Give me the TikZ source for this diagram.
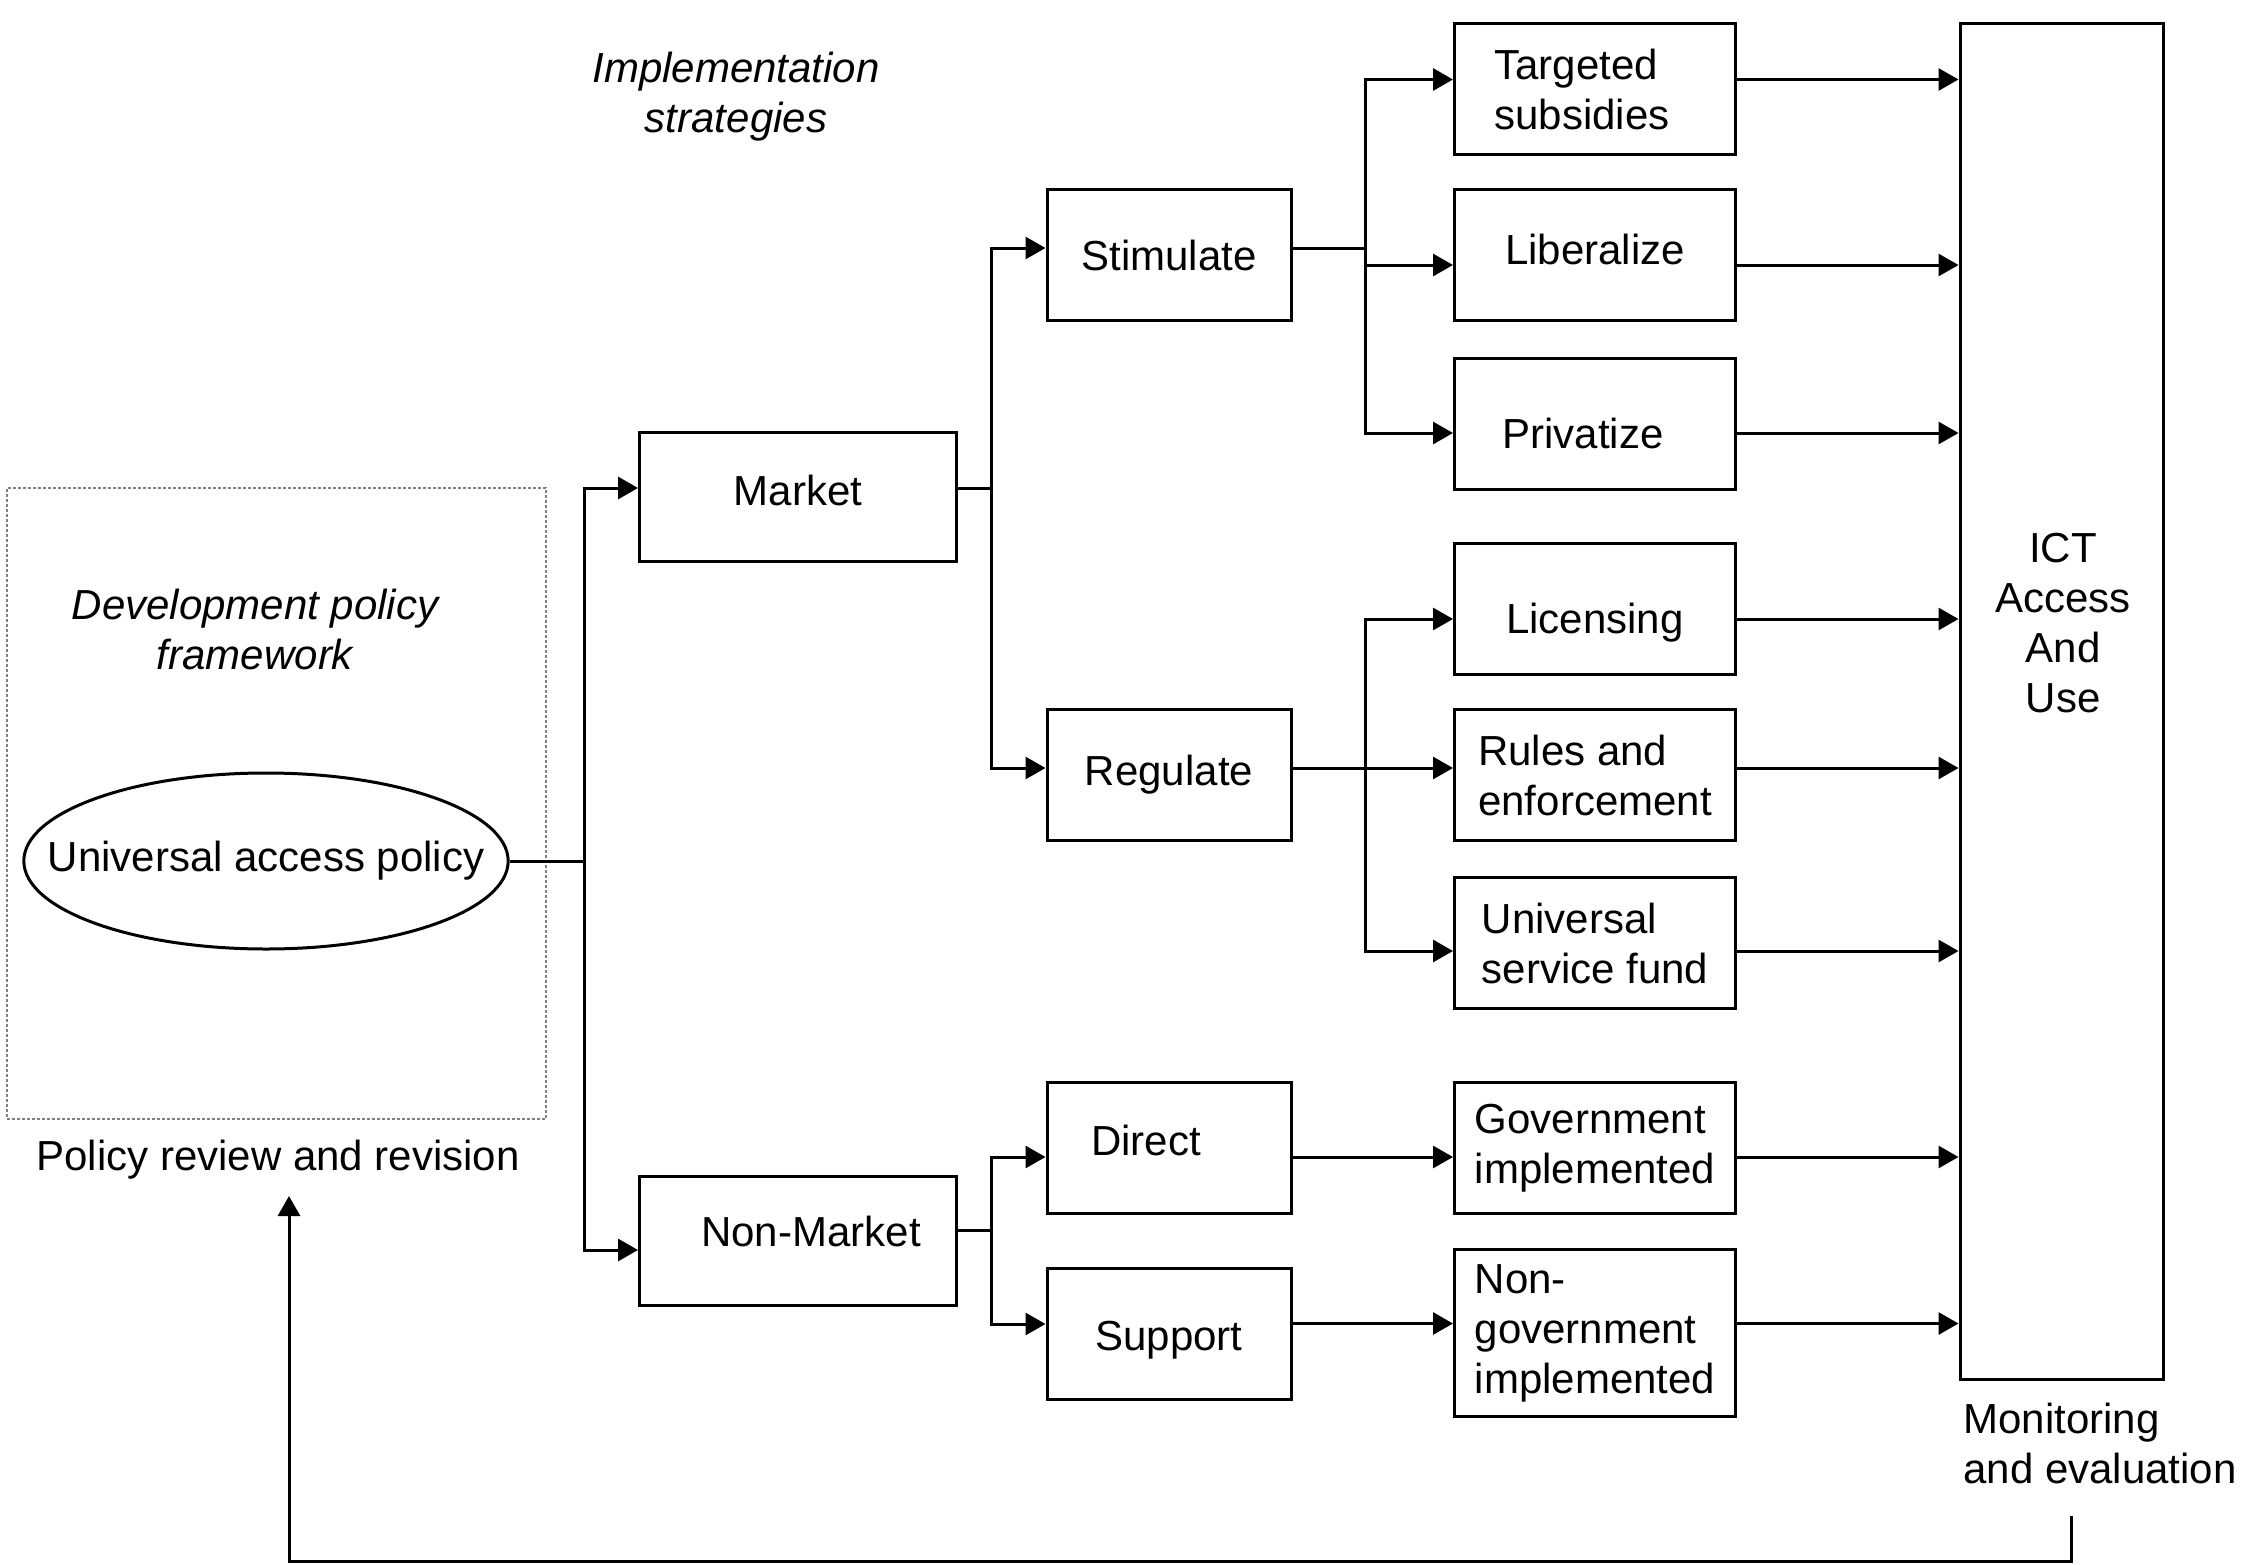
\documentclass[tikz,border=0pt]{standalone}
\usepackage{fontspec}
\setmainfont{Liberation Sans}
\usepackage{tikz}
\usetikzlibrary{arrows.meta,shapes.geometric}

\newcommand{\nudge}[2]{\raisebox{#1}[\height][\depth]{#2}}

\begin{document}
\begin{tikzpicture}[x=1pt, y=-1pt, line width=3pt,
  every node/.style={font=\fontsize{42}{50}\selectfont, inner sep=0pt},
  >={Triangle[length=20pt,width=22pt]},
  mbox/.style={draw, minimum width=317pt, minimum height=129pt},
  sbox/.style={draw, minimum width=244pt, minimum height=131pt},
  rbox/.style={draw, minimum width=281pt, minimum height=131pt, align=left},
  frame/.style={draw=gray, line width=1.5pt, dash pattern=on 3pt off 2pt,
    minimum width=539pt, minimum height=631pt}]
\useasboundingbox (0,0) rectangle (2246,1565);

% policy side
\node[frame] (dpf) at (276.5,803.5) {};
\node[align=center, font=\fontsize{42}{50}\selectfont\itshape] (dpft) at (255,629) {Development policy\\framework};
\node[draw, ellipse, inner xsep=-47pt, minimum height=176pt] (uap) at (266,861) {Universal access policy};
\node (rev) at (278,1160) {Policy review and revision};
\node[align=center, font=\fontsize{42}{50}\selectfont\itshape] (impl) at (736,97) {Implementation\\strategies};

% strategies
\node[mbox] (market) at (798,497) {\nudge{7pt}{Market}};
\node[mbox] (nonmarket) at (798,1241) {\nudge{10pt}{\hspace*{26pt}Non-Market}};
\node[sbox] (stim) at (1169,255) {Stimulate};
\node[sbox] (regul) at (1169,775) {Regulate};
\node[sbox] (direct) at (1169,1148) {\nudge{8pt}{\hspace*{-46pt}Direct}};
\node[sbox] (support) at (1169,1334) {\nudge{-6pt}{Support}};

% instruments
\node[rbox] (targ) at (1595,89) {\hspace*{-26pt}Targeted\\\hspace*{-26pt}subsidies};
\node[rbox] (lib) at (1595,255) {\nudge{6pt}{Liberalize}};
\node[rbox] (priv) at (1595,424) {\nudge{-9pt}{\hspace*{-24pt}Privatize}};
\node[rbox] (lic) at (1595,609) {\nudge{-14pt}{Licensing}};
\node[rbox] (rules) at (1595,775) {Rules and\\enforcement};
\node[rbox] (usf) at (1595,943) {Universal\\service fund};
\node[rbox] (gov) at (1595,1148) {Government\\implemented};
\node[rbox, minimum height=167pt] (ngov) at (1595,1333) {Non-\\government\\implemented};

% outcome
\node[draw, minimum width=203pt, minimum height=1355pt] (ict) at (2061.5,701.5) {};
\node[align=center] (ictt) at (2063,623) {ICT\\Access\\And\\Use};
\node[align=left, anchor=north west] (mon) at (1962,1402) {Monitoring\\and evaluation};

\coordinate (j0) at (584,861);
\coordinate (j1) at (991,488);
\coordinate (j2) at (991,1230);
\coordinate (j3) at (1365,248);
\coordinate (j4) at (1365,768);
\coordinate (fbstart) at (2071,1516);
\coordinate (fbtip) at (289,1196);

\draw (uap) -- (j0);
\draw[->] (j0) |- ([yshift=9pt]market.west);
\draw[->] (j0) |- ([yshift=-9pt]nonmarket.west);
\draw (market.east |- j1) -- (j1);
\draw[->] (j1) |- ([yshift=7pt]stim.west);
\draw[->] (j1) |- ([yshift=7pt]regul.west);
\draw (nonmarket.east |- j2) -- (j2);
\draw[->] (j2) |- ([yshift=-9pt]direct.west);
\draw[->] (j2) |- ([yshift=10pt]support.west);
\draw (stim.east |- j3) -- (j3);
\draw (regul.east |- j4) -- (j4);
\draw[->] (direct.east |- gov.west) ++(0,9) -- ([yshift=-9pt]gov.west);
\draw[->] (support.east |- ngov.west) ++(0,-9.5) -- ([yshift=9.5pt]ngov.west);

% branches into the instruments and on to the outcome
\foreach \n/\dy/\j in {targ/9.5/j3, lib/-10/j3, priv/-9/j3,
                       lic/-10/j4, rules/7/j4, usf/-8/j4}
  \draw[->] (\j) |- ([yshift=\dy pt]\n.west);
\foreach \n/\dy in {targ/9.5, lib/-10, priv/-9, lic/-10, rules/7,
                    usf/-8, gov/-9, ngov/9.5}
  \draw[->] ([yshift=\dy pt]\n.east) -- ([yshift=\dy pt]\n.east -| ict.west);

\draw[->] (fbstart) -- ++(0,45) -| (fbtip);
\end{tikzpicture}
\end{document}
